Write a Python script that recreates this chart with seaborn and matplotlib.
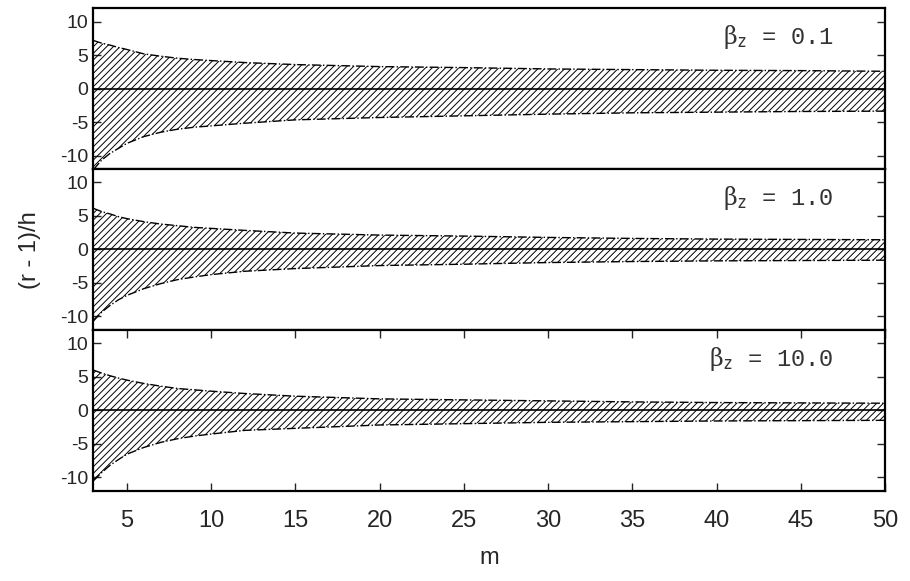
import numpy as np
import pandas as pd
import matplotlib
matplotlib.use("Agg")
import matplotlib.pyplot as plt
import seaborn as sns

# values
m = [3, 3.5, 4, 4.5, 5, 6, 7, 8, 9, 10, 12, 15, 20, 25, 30, 35, 40, 45, 50]

upper_01 = [7.2, 6.8, 6.5, 6.15, 5.85, 5.2, 4.85, 4.55, 4.35, 4.2, 3.9, 3.6, 3.3, 3.15, 2.95, 2.85, 2.75, 2.7, 2.6]
lower_01 = [-12.1, -10.65, -9.65, -8.9, -8.15, -7.15, -6.5, -6.05, -5.75, -5.55, -5.15, -4.65, -4.3, -4.05, -3.8, -3.6, -3.5, -3.4, -3.35]

upper_1 = [6.15, 5.65, 5.3, 4.9, 4.6, 4.15, 3.8, 3.55, 3.3, 3.15, 2.85, 2.45, 2.15, 2.0, 1.8, 1.65, 1.55, 1.5, 1.45]
lower_1 = [-10.7, -9.35, -8.35, -7.5, -6.85, -5.85, -5.1, -4.5, -4.1, -3.75, -3.25, -2.85, -2.4, -2.2, -1.95, -1.8, -1.7, -1.65, -1.6]

upper_10 = [6.0, 5.55, 5.15, 4.8, 4.5, 4.0, 3.6, 3.25, 3.05, 2.85, 2.5, 2.1, 1.7, 1.55, 1.4, 1.25, 1.15, 1.1, 1.05]
lower_10 = [-10.55, -9.3, -8.2, -7.35, -6.55, -5.55, -4.8, -4.25, -3.85, -3.55, -3.0, -2.7, -2.2, -2.0, -1.8, -1.7, -1.6, -1.55, -1.5]

beta_labels = ["0.1", "1.0", "10.0"]
x_ticks = [5, 10, 15, 20, 25, 30, 35, 40, 45, 50]
y_ticks = [-10, -5, 0, 5, 10]

sns.set_style("ticks")
plt.rcParams['font.family'] = ['Liberation Sans', 'DejaVu Sans']
plt.rcParams['mathtext.fontset'] = 'dejavuserif'
plt.rcParams['axes.unicode_minus'] = False
plt.rcParams['hatch.linewidth'] = 0.7
plt.rcParams['hatch.color'] = 'black'

bands = [(upper_01, lower_01), (upper_1, lower_1), (upper_10, lower_10)]

fig, axes = plt.subplots(3, 1, figsize=(9.1, 5.81), dpi=100, sharex=True)
fig.subplots_adjust(left=0.1025, right=0.9725, top=0.9857, bottom=0.1555, hspace=0)

for ax, (up, lo), lab in zip(axes, bands, beta_labels):
    df = pd.DataFrame({'m': m, 'upper': up, 'lower': lo})
    # hatched band between the two bounds
    ax.fill_between(df['m'], df['lower'], df['upper'], facecolor='none',
                    edgecolor='black', hatch='/////', linewidth=0)
    sns.lineplot(data=df, x='m', y='upper', ax=ax, color='black',
                 linestyle='-.', linewidth=1.0)
    sns.lineplot(data=df, x='m', y='lower', ax=ax, color='black',
                 linestyle='-.', linewidth=1.0)
    ax.axhline(0, color='black', linewidth=1.2)

    ax.set_xlim(3, 50)
    ax.set_ylim(-12, 12)
    ax.set_yticks(y_ticks)
    ax.set_ylabel('')
    ax.set_xlabel('')
    ax.tick_params(axis='y', direction='in', left=True, right=True,
                   length=6, width=1, labelsize=14)
    for s in ax.spines.values():
        s.set_linewidth(1.6)
        s.set_color('black')

    ax.text(0.935, 0.82, r'$\mathrm{\beta}_\mathtt{z}$ = ' + lab, transform=ax.transAxes,
            ha='right', va='center', fontsize=17, color='#333333',
            family=['Liberation Mono', 'DejaVu Sans Mono'])

for ax in axes[:2]:
    ax.tick_params(axis='x', bottom=False, top=False, labelbottom=False)

axes[2].set_xticks(x_ticks)
axes[2].tick_params(axis='x', direction='in', bottom=True, top=True,
                    length=6, width=1, labelsize=17, pad=14)
axes[2].set_xlabel('m', fontsize=17, labelpad=11)
fig.text(0.033, 0.57, '(r - 1)/h', rotation=90, ha='center', va='center', fontsize=17)

fig.savefig('out.png', dpi=100)
